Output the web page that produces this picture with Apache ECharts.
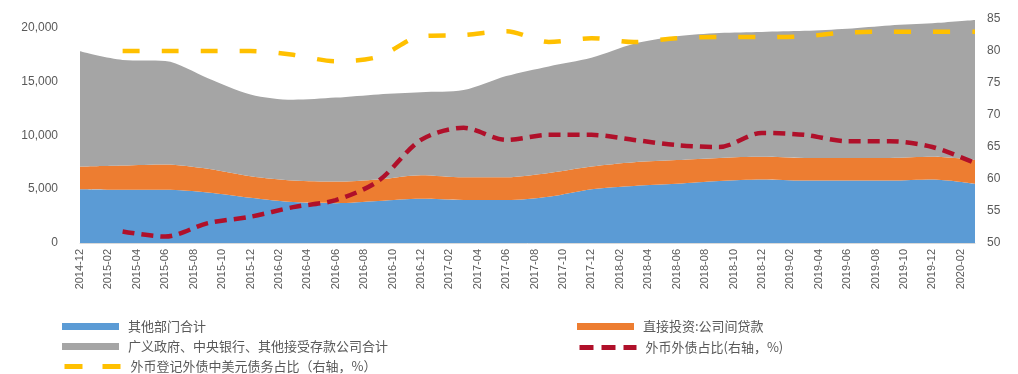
<!DOCTYPE html>
<html><head><meta charset="utf-8">
<script src="https://cdn.jsdelivr.net/npm/echarts@6/dist/echarts.min.js"></script>
<style>html,body{margin:0;padding:0;background:#fff}#c{width:1018px;height:374px}</style>
</head><body><div id="c"></div>
<script>
// Monthly axis categories (labels shown every other month)
var months = ['2014-12',
 '2015-01','2015-02','2015-03','2015-04','2015-05','2015-06','2015-07','2015-08','2015-09','2015-10','2015-11','2015-12',
 '2016-01','2016-02','2016-03','2016-04','2016-05','2016-06','2016-07','2016-08','2016-09','2016-10','2016-11','2016-12',
 '2017-01','2017-02','2017-03','2017-04','2017-05','2017-06','2017-07','2017-08','2017-09','2017-10','2017-11','2017-12',
 '2018-01','2018-02','2018-03','2018-04','2018-05','2018-06','2018-07','2018-08','2018-09','2018-10','2018-11','2018-12',
 '2019-01','2019-02','2019-03','2019-04','2019-05','2019-06','2019-07','2019-08','2019-09','2019-10','2019-11','2019-12',
 '2020-01','2020-02','2020-03'];
// Quarterly observation dates
var quarters = ['2014-12','2015-03','2015-06','2015-09','2015-12','2016-03','2016-06','2016-09','2016-12','2017-03','2017-06',
 '2017-09','2017-12','2018-03','2018-06','2018-09','2018-12','2019-03','2019-06','2019-09','2019-12','2020-03'];
// 其他部门合计 (亿美元)
var otherSectors = [5000,4950,4950,4700,4200,3800,3700,3900,4100,4000,4000,4300,5000,5300,5500,5750,5900,5800,5800,5800,5900,5500];
// 直接投资:公司间贷款
var fdiLoans =     [2100,2250,2350,2200,2000,2000,2000,2000,2200,2100,2100,2200,2100,2200,2200,2150,2100,2100,2100,2100,2100,2200];
// 广义政府、中央银行、其他接受存款公司合计
var govBanks =     [10700,9800,9600,8400,7600,7500,7800,7900,7700,8100,9400,9900,10100,11000,11500,11600,11600,11800,12000,12300,12400,13000];
// 外币外债占比(右轴，%)
var fxShare =      [null,51.8,51.0,53.1,54.1,55.6,56.7,59.7,66.1,68.0,66.1,66.9,66.9,66.1,65.3,65.0,67.2,66.9,65.9,65.9,65.0,62.5];
// 外币登记外债中美元债务占比（右轴，%）
var usdShare =     [null,80.0,80.0,80.0,80.0,79.4,78.4,79.1,82.3,82.5,83.1,81.4,82.0,81.4,82.0,82.2,82.2,82.3,82.9,83.0,83.0,83.0];

function pairs(arr){ return quarters.map(function(q,i){ return [q, arr[i]]; }); }
function thousands(v){ return String(v).replace(/\B(?=(\d{3})+(?!\d))/g, ','); }

var names = ['其他部门合计','直接投资:公司间贷款','广义政府、中央银行、其他接受存款公司合计','外币外债占比(右轴，%)','外币登记外债中美元债务占比（右轴，%）'];
var txt = {color:'#595959', fontSize:13, fontFamily:'Noto Sans CJK SC', padding:[0,0,0,4]};
function lg(name, left, top, icon, dash){
  var o = {data:[name], left:left, top:top, itemWidth:57, itemHeight:7, textStyle:txt, selectedMode:false};
  if (icon) o.icon = icon;
  else { o.itemStyle = {opacity:0}; o.lineStyle = {width:5, type:dash}; }
  return o;
}
var chart = echarts.init(document.getElementById('c'), null, {renderer:'canvas'});
chart.setOption({
  animation:false,
  color:['#5B9BD5','#ED7D31','#A5A5A5','#C00000','#FFC000'],
  grid:{left:80, right:43, top:19, height:224},
  legend:[lg(names[0],57,315,'rect'), lg(names[1],572,315,'rect'), lg(names[2],57,335,'rect'),
          lg(names[3],572,336,null,[14,8]), lg(names[4],57,355,null,[18,20])],
  xAxis:{type:'category', data:months, boundaryGap:false,
    axisLine:{lineStyle:{color:'#D9D9D9'}}, axisTick:{show:false},
    axisLabel:{interval:1, rotate:90, color:'#595959', fontSize:11, fontFamily:'Liberation Sans', margin:6}},
  yAxis:[
    {type:'value', min:0, max:20800, interval:5000, splitLine:{show:false},
     axisLabel:{showMaxLabel:false, color:'#595959', fontSize:12, fontFamily:'Liberation Sans', margin:22,
       formatter:function(v){ return v>20000?'':thousands(v); }}},
    {type:'value', min:50, max:85, interval:5, splitLine:{show:false},
     axisLabel:{color:'#595959', fontSize:12, fontFamily:'Liberation Sans', margin:12}}
  ],
  series:[
    {name:names[0], type:'line', stack:'t', data:pairs(otherSectors), smooth:0.3, symbol:'none',
     lineStyle:{width:0}, areaStyle:{color:'#5B9BD5', opacity:1}, itemStyle:{color:'#5B9BD5'}},
    {name:names[1], type:'line', stack:'t', data:pairs(fdiLoans), smooth:0.3, symbol:'none',
     lineStyle:{width:0}, areaStyle:{color:'#ED7D31', opacity:1}, itemStyle:{color:'#ED7D31'}},
    {name:names[2], type:'line', stack:'t', data:pairs(govBanks), smooth:0.3, symbol:'none',
     lineStyle:{width:0}, areaStyle:{color:'#A5A5A5', opacity:1}, itemStyle:{color:'#A5A5A5'}},
    {name:names[3], type:'line', yAxisIndex:1, data:pairs(fxShare), smooth:0.3, symbol:'none',
     lineStyle:{color:'#B0102A', width:4.5, type:[12,7]}, itemStyle:{color:'#B0102A'}},
    {name:names[4], type:'line', yAxisIndex:1, data:pairs(usdShare), smooth:0.3, symbol:'none',
     lineStyle:{color:'#FFC000', width:4.5, type:[17,22]}, itemStyle:{color:'#FFC000'}}
  ]
});
</script></body></html>
